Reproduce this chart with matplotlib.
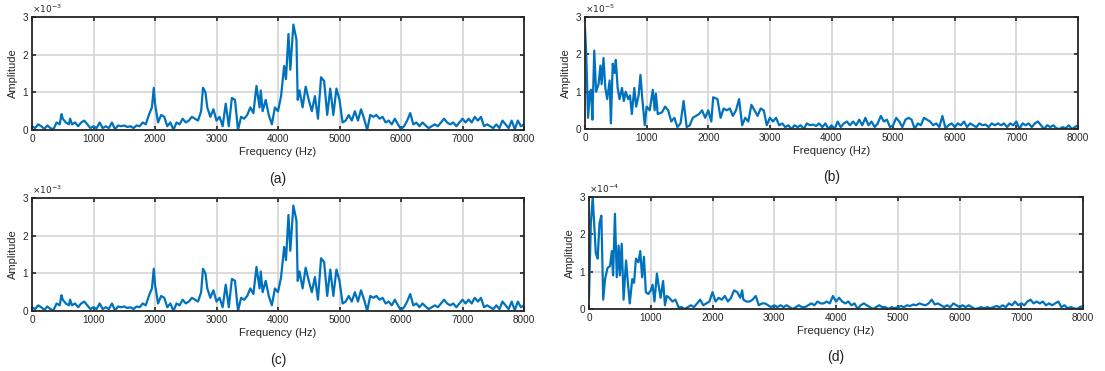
import numpy as np
import matplotlib.pyplot as plt

plt.rcParams['font.family'] = ['Liberation Sans', 'DejaVu Sans']

# panel (a) / (c): amplitude x1e-3
a_freq = [0, 50, 100, 150, 200, 250, 300, 350, 400, 450, 480, 500, 550, 600, 620, 650, 700, 750, 800, 850,
          900, 950, 1000, 1050, 1100, 1150, 1200, 1250, 1300, 1350, 1400, 1450, 1500, 1550, 1600, 1650, 1700,
          1750, 1800, 1850, 1900, 1950, 1980, 2000, 2050, 2100, 2150, 2200, 2250, 2300, 2350, 2400, 2450, 2500,
          2550, 2600, 2650, 2700, 2750, 2780, 2820, 2850, 2900, 2950, 3000, 3050, 3100, 3150, 3200, 3250, 3300,
          3350, 3400, 3450, 3500, 3550, 3600, 3650, 3700, 3720, 3750, 3800, 3850, 3900, 3950, 4000, 4050, 4100,
          4130, 4170, 4200, 4250, 4300, 4320, 4350, 4400, 4450, 4500, 4550, 4600, 4650, 4700, 4750, 4800, 4850,
          4900, 4950, 5000, 5050, 5100, 5150, 5200, 5250, 5300, 5350, 5400, 5450, 5500, 5550, 5600, 5650, 5700,
          5750, 5800, 5850, 5900, 5950, 6000, 6050, 6100, 6150, 6200, 6250, 6300, 6350, 6400, 6450, 6500, 6550,
          6600, 6650, 6700, 6750, 6800, 6850, 6900, 6950, 7000, 7050, 7100, 7150, 7200, 7250, 7300, 7350, 7400,
          7450, 7500, 7550, 7600, 7650, 7700, 7750, 7800, 7850, 7900, 7950, 8000]
a_amp = [0.1, 0.05, 0.15, 0.1, 0.03, 0.12, 0.05, 0.02, 0.2, 0.15, 0.42, 0.3, 0.2, 0.15, 0.3, 0.15, 0.2, 0.1, 0.2, 0.25,
         0.15, 0.05, 0.1, 0.05, 0.2, 0.05, 0.1, 0.05, 0.2, 0.02, 0.12, 0.1, 0.12, 0.08, 0.1, 0.05, 0.12,
         0.1, 0.2, 0.15, 0.4, 0.6, 1.12, 0.7, 0.2, 0.4, 0.35, 0.1, 0.2, 0.0, 0.2, 0.15, 0.3, 0.2,
         0.25, 0.35, 0.3, 0.25, 0.5, 1.12, 1.0, 0.6, 0.35, 0.55, 0.25, 0.35, 0.1, 0.7, 0.1, 0.85, 0.8,
         0.0, 0.35, 0.3, 0.4, 0.6, 0.45, 1.17, 0.6, 1.05, 0.5, 0.8, 0.4, 0.15, 0.6, 0.5, 0.9, 1.7,
         1.35, 2.55, 1.6, 2.8, 2.4, 0.8, 1.05, 0.6, 1.15, 0.8, 0.5, 0.9, 0.3, 1.4, 1.3, 0.4, 1.1,
         0.4, 1.1, 0.8, 0.2, 0.25, 0.4, 0.25, 0.5, 0.25, 0.55, 0.3, 0.0, 0.4, 0.35, 0.4, 0.3, 0.35,
         0.2, 0.25, 0.15, 0.3, 0.15, 0.02, 0.1, 0.25, 0.45, 0.15, 0.2, 0.1, 0.2, 0.12, 0.05, 0.1, 0.15,
         0.1, 0.2, 0.3, 0.2, 0.15, 0.2, 0.1, 0.2, 0.3, 0.2, 0.3, 0.2, 0.35, 0.25, 0.35, 0.1, 0.15,
         0.1, 0.05, 0.15, 0.05, 0.25, 0.15, 0.05, 0.25, 0.02, 0.25, 0.1, 0.15]

# panel (b): amplitude x1e-5
b_freq = [0, 20, 50, 80, 100, 120, 150, 180, 220, 250, 270, 300, 330, 360, 400, 420, 450, 480, 500, 530,
          560, 600, 630, 660, 700, 730, 760, 800, 830, 870, 900, 930, 970, 1000, 1050, 1100, 1130, 1150,
          1180, 1250, 1300, 1350, 1400, 1450, 1500, 1550, 1600, 1650, 1700, 1750, 1800, 1850, 1900, 1950,
          2000, 2050, 2080, 2150, 2200, 2250, 2300, 2350, 2400, 2450, 2500, 2550, 2600, 2650, 2700, 2750,
          2800, 2850, 2900, 2950, 3000, 3050, 3100, 3150, 3200, 3250, 3300, 3350, 3400, 3450, 3500, 3550,
          3600, 3650, 3700, 3750, 3800, 3850, 3900, 3950, 4000, 4050, 4100, 4150, 4200, 4250, 4300, 4350,
          4400, 4450, 4500, 4550, 4600, 4650, 4700, 4750, 4800, 4850, 4900, 4950, 5000, 5050, 5100, 5150,
          5200, 5250, 5300, 5350, 5400, 5450, 5500, 5550, 5600, 5650, 5700, 5750, 5800, 5850, 5900, 5950,
          6000, 6050, 6100, 6150, 6200, 6250, 6300, 6350, 6400, 6450, 6500, 6550, 6600, 6650, 6700, 6750,
          6800, 6850, 6900, 6950, 7000, 7050, 7100, 7150, 7200, 7250, 7300, 7350, 7400, 7450, 7500, 7550,
          7600, 7650, 7700, 7750, 7800, 7850, 7900, 7950, 8000]
b_amp = [2.7, 2.0, 0.3, 1.0, 1.05, 0.25, 2.1, 1.0, 1.2, 1.7, 1.2, 1.9, 1.1, 0.8, 1.3, 0.15, 1.75, 1.5, 1.85, 1.1,
         0.8, 1.1, 0.75, 1.0, 0.8, 0.9, 0.4, 1.1, 0.6, 0.9, 1.45, 0.8, 0.1, 0.6, 0.5, 1.05, 0.5, 0.95,
         0.4, 0.45, 0.6, 0.5, 0.2, 0.3, 0.05, 0.15, 0.75, 0.05, 0.1, 0.3, 0.35, 0.4, 0.5, 0.3,
         0.5, 0.2, 0.85, 0.8, 0.3, 0.55, 0.5, 0.55, 0.35, 0.5, 0.8, 0.1, 0.3, 0.2, 0.65, 0.5,
         0.35, 0.55, 0.5, 0.1, 0.3, 0.2, 0.3, 0.1, 0.15, 0.05, 0.1, 0.0, 0.1, 0.05, 0.1, 0.0,
         0.15, 0.1, 0.12, 0.08, 0.15, 0.05, 0.15, 0.0, 0.1, 0.0, 0.2, 0.05, 0.15, 0.2, 0.1, 0.2,
         0.1, 0.25, 0.1, 0.3, 0.1, 0.2, 0.05, 0.15, 0.35, 0.2, 0.25, 0.05, 0.1, 0.3, 0.2, 0.05,
         0.25, 0.3, 0.25, 0.0, 0.15, 0.1, 0.3, 0.25, 0.2, 0.1, 0.15, 0.05, 0.35, 0.02, 0.1, 0.15,
         0.05, 0.15, 0.1, 0.2, 0.05, 0.15, 0.1, 0.05, 0.15, 0.1, 0.12, 0.05, 0.15, 0.1, 0.15, 0.1,
         0.15, 0.05, 0.15, 0.1, 0.2, 0.0, 0.15, 0.1, 0.15, 0.05, 0.15, 0.2, 0.1, 0.0, 0.1, 0.05,
         0.1, 0.02, 0.0, 0.05, 0.02, 0.1, 0.0, 0.05, 0.1]

# panel (c) is the same spectrum as (a)
c_freq = a_freq
c_amp = a_amp

# panel (d): amplitude x1e-4
d_freq = [0, 30, 60, 90, 110, 140, 170, 200, 230, 260, 300, 340, 370, 390, 420, 450, 480, 500, 530, 560,
          600, 630, 660, 700, 730, 760, 800, 830, 860, 890, 920, 960, 1000, 1030, 1060, 1100, 1130, 1160,
          1200, 1230, 1260, 1300, 1350, 1400, 1450, 1500, 1550, 1600, 1650, 1700, 1750, 1800, 1850, 1900,
          1950, 2000, 2050, 2100, 2150, 2200, 2250, 2300, 2350, 2400, 2450, 2480, 2500, 2550, 2600, 2650,
          2700, 2750, 2800, 2850, 2900, 2950, 3000, 3050, 3100, 3150, 3200, 3250, 3300, 3350, 3400, 3450,
          3500, 3550, 3600, 3650, 3700, 3750, 3800, 3850, 3900, 3950, 4000, 4050, 4100, 4150, 4200, 4250,
          4300, 4350, 4400, 4450, 4500, 4550, 4600, 4650, 4700, 4750, 4800, 4850, 4900, 4950, 5000, 5050,
          5100, 5150, 5200, 5250, 5300, 5350, 5400, 5450, 5500, 5550, 5600, 5650, 5700, 5750, 5800, 5850,
          5900, 5950, 6000, 6050, 6100, 6150, 6200, 6250, 6300, 6350, 6400, 6450, 6500, 6550, 6600, 6650,
          6700, 6750, 6800, 6850, 6900, 6950, 7000, 7050, 7100, 7150, 7200, 7250, 7300, 7350, 7400, 7450,
          7500, 7550, 7600, 7650, 7700, 7750, 7800, 7850, 7900, 7950, 8000]
d_amp = [0.3, 2.3, 3.0, 2.1, 1.5, 1.35, 2.3, 2.5, 0.25, 0.8, 1.1, 1.15, 1.55, 0.9, 2.55, 0.85, 1.7, 0.9, 1.75, 0.25,
         1.3, 0.7, 0.15, 0.8, 0.7, 1.35, 1.25, 1.55, 0.85, 1.4, 0.45, 0.4, 0.5, 0.65, 0.2, 0.95, 0.6, 0.3,
         0.75, 0.1, 0.35, 0.3, 0.2, 0.25, 0.05, 0.05, 0.0, 0.05, 0.1, 0.05, 0.15, 0.25, 0.1, 0.15,
         0.2, 0.45, 0.2, 0.3, 0.25, 0.35, 0.2, 0.3, 0.5, 0.45, 0.3, 0.5, 0.25, 0.2, 0.2, 0.25,
         0.35, 0.1, 0.15, 0.15, 0.1, 0.05, 0.1, 0.05, 0.1, 0.05, 0.1, 0.05, 0.0, 0.05, 0.1, 0.05,
         0.05, 0.1, 0.15, 0.1, 0.2, 0.15, 0.15, 0.2, 0.15, 0.35, 0.2, 0.3, 0.2, 0.15, 0.2, 0.1,
         0.15, 0.0, 0.1, 0.15, 0.1, 0.05, 0.0, 0.05, 0.1, 0.05, 0.05, 0.0, 0.05, 0.02, 0.05, 0.08,
         0.05, 0.1, 0.08, 0.12, 0.1, 0.15, 0.12, 0.1, 0.15, 0.25, 0.12, 0.15, 0.1, 0.05, 0.1, 0.05,
         0.15, 0.1, 0.05, 0.1, 0.05, 0.1, 0.05, 0.0, 0.02, 0.05, 0.02, 0.05, 0.02, 0.05, 0.08, 0.05,
         0.1, 0.05, 0.15, 0.1, 0.2, 0.1, 0.15, 0.1, 0.2, 0.25, 0.15, 0.2, 0.15, 0.2, 0.1, 0.15,
         0.1, 0.15, 0.2, 0.05, 0.1, 0.02, 0.05, 0.02, 0.0, 0.05, 0.08]

xticks = [0, 1000, 2000, 3000, 4000, 5000, 6000, 7000, 8000]
yticks = [0, 1, 2, 3]

W, H = 1105, 371
fig = plt.figure(figsize=(W / 100, H / 100), dpi=100)

# pixel boxes: left, top, right, bottom
panels = [
    (a_freq, a_amp, '-3', '(a)', (32, 17, 524, 130)),
    (b_freq, b_amp, '-5', '(b)', (585, 17, 1078, 129)),
    (c_freq, c_amp, '-3', '(c)', (32, 198, 524, 311)),
    (d_freq, d_amp, '-4', '(d)', (589, 197, 1083, 309)),
]

for freq, amp, expo, tag, (l, t, r, b) in panels:
    ax = fig.add_axes([l / W, 1 - b / H, (r - l) / W, (b - t) / H])
    ax.plot(freq, amp, color='#0072BD', lw=1.6, clip_on=True)
    ax.set_xlim(0, 8000)
    ax.set_ylim(0, 3)
    ax.set_xticks(xticks)
    ax.set_yticks(yticks)
    ax.grid(True, color='#d4d4d4', lw=1.2)
    ax.set_axisbelow(True)
    ax.tick_params(direction='in', length=3, width=1.2, labelsize=7.2, pad=3,
                   top=True, right=True, colors='#262626')
    for s in ax.spines.values():
        s.set_linewidth(1.3)
        s.set_color('#262626')
    ax.set_xlabel('Frequency (Hz)', fontsize=8, color='#262626', labelpad=2)
    ax.set_ylabel('Amplitude', fontsize=8, color='#262626', labelpad=3)
    ax.text(0, 1.015, r'$\times10^{' + expo + '}$', transform=ax.transAxes,
            fontsize=6.5, color='#262626', va='bottom', ha='left')
    ax.text(0.5, -0.37, tag, transform=ax.transAxes, fontsize=10,
            ha='center', va='top', color='#202020')

plt.savefig('out.png', dpi=100)
